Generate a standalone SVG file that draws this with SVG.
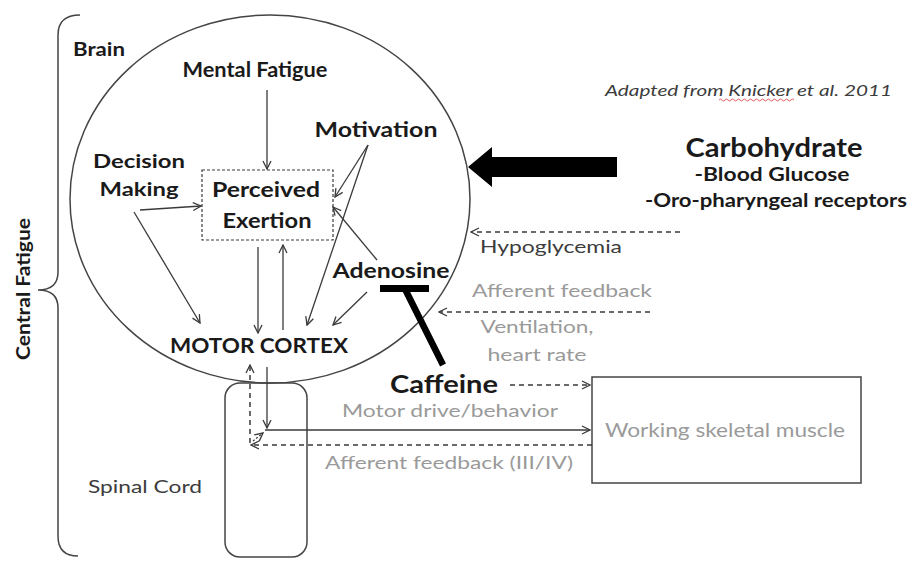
<svg xmlns="http://www.w3.org/2000/svg" width="911" height="562" viewBox="0 0 911 562">
<defs>
<style>
.t{font-family:Lato,"Open Sans","Liberation Sans",sans-serif;fill:#1a1a1a}
.b{font-weight:bold}
.g{fill:#9a9a9a}
.dg{fill:#3c3c3c}
.ln{stroke:#3a3a3a;stroke-width:1.3;fill:none}
.ds{stroke:#3a3a3a;stroke-width:1.5;fill:none;stroke-dasharray:5 4}
.sh{stroke:#444;stroke-width:1.5;fill:none}
</style>
<marker id="a" viewBox="0 0 10 10" refX="9" refY="5" markerWidth="10" markerHeight="10" markerUnits="userSpaceOnUse" orient="auto">
<path d="M1,1 L9,5 L1,9" fill="none" stroke="#3a3a3a" stroke-width="1.3"/>
</marker>
</defs>
<rect width="911" height="562" fill="#fff"/>

<g id="central-fatigue">
<path class="sh" d="M80 15 Q58 15 58 35 L58 272 Q58 290 38 290 Q58 290 58 308 L58 536 Q58 556 78 556"/>
<text class="t b" transform="translate(30 289) rotate(-90)" text-anchor="middle" font-size="18" textLength="142" lengthAdjust="spacingAndGlyphs">Central Fatigue</text>
</g>

<g id="brain">
<ellipse class="sh" cx="270" cy="199" rx="200" ry="184" stroke-width="1.3"/>
<text class="t b" x="73" y="56" font-size="18" textLength="52" lengthAdjust="spacingAndGlyphs">Brain</text>
</g>

<g id="mental-fatigue"><text class="t b" x="255" y="77" text-anchor="middle" font-size="20" textLength="145" lengthAdjust="spacingAndGlyphs">Mental Fatigue</text></g>
<g id="motivation"><text class="t b" x="376" y="137" text-anchor="middle" font-size="20" textLength="123" lengthAdjust="spacingAndGlyphs">Motivation</text></g>
<g id="decision-making">
<text class="t b" x="139" y="168" text-anchor="middle" font-size="19" textLength="92" lengthAdjust="spacingAndGlyphs">Decision</text>
<text class="t b" x="139" y="196" text-anchor="middle" font-size="19" textLength="79" lengthAdjust="spacingAndGlyphs">Making</text>
</g>
<g id="perceived-exertion">
<rect x="202" y="170" width="131" height="70" fill="none" stroke="#3a3a3a" stroke-width="1.2" stroke-dasharray="3 2"/>
<text class="t b" x="266" y="197" text-anchor="middle" font-size="20" textLength="108" lengthAdjust="spacingAndGlyphs">Perceived</text>
<text class="t b" x="267" y="228" text-anchor="middle" font-size="20" textLength="89" lengthAdjust="spacingAndGlyphs">Exertion</text>
</g>
<g id="adenosine"><text class="t b" x="391" y="278" text-anchor="middle" font-size="20" textLength="117" lengthAdjust="spacingAndGlyphs">Adenosine</text></g>
<g id="motor-cortex"><text class="t b" x="259" y="353" text-anchor="middle" font-size="20" textLength="178" lengthAdjust="spacingAndGlyphs">MOTOR CORTEX</text></g>

<g id="citation">
<text class="t dg" x="605" y="96" font-size="16" font-style="italic" textLength="287" lengthAdjust="spacingAndGlyphs">Adapted from Knicker et al. 2011</text>
<path d="M719 100 q1.5 -2 3 0 t3 0 t3 0 t3 0 t3 0 t3 0 t3 0 t3 0 t3 0 t3 0 t3 0 t3 0 t3 0 t3 0 t3 0 t3 0 t3 0 t3 0 t3 0 t3 0 t3 0 t3 0 t3 0 t3 0 t3 0" fill="none" stroke="#d33" stroke-width="0.8"/>
</g>

<g id="carbohydrate">
<text class="t b" x="774" y="157" text-anchor="middle" font-size="26" textLength="177" lengthAdjust="spacingAndGlyphs">Carbohydrate</text>
<text class="t b" x="772" y="181" text-anchor="middle" font-size="18" textLength="155" lengthAdjust="spacingAndGlyphs">-Blood Glucose</text>
<text class="t b" x="776" y="207" text-anchor="middle" font-size="19" textLength="262" lengthAdjust="spacingAndGlyphs">-Oro-pharyngeal receptors</text>
</g>

<g id="caffeine"><text class="t b" x="444" y="393" text-anchor="middle" font-size="25" textLength="108" lengthAdjust="spacingAndGlyphs">Caffeine</text></g>

<g id="spinal-cord">
<rect x="225" y="383" width="82" height="174" rx="15" class="sh"/>
<text class="t dg" x="145" y="493" text-anchor="middle" font-size="18" textLength="114" lengthAdjust="spacingAndGlyphs">Spinal Cord</text>
</g>

<g id="working-skeletal-muscle">
<rect x="592" y="377" width="269" height="106" class="sh"/>
<text class="t g" x="725" y="437" text-anchor="middle" font-size="19" textLength="240" lengthAdjust="spacingAndGlyphs">Working skeletal muscle</text>
</g>

<g id="labels">
<text class="t dg" x="551" y="253" text-anchor="middle" font-size="18" textLength="142" lengthAdjust="spacingAndGlyphs">Hypoglycemia</text>
<text class="t g" x="562" y="297" text-anchor="middle" font-size="18" textLength="180" lengthAdjust="spacingAndGlyphs">Afferent feedback</text>
<text class="t g" x="537" y="333" text-anchor="middle" font-size="18" textLength="113" lengthAdjust="spacingAndGlyphs">Ventilation,</text>
<text class="t g" x="537" y="361" text-anchor="middle" font-size="18" textLength="99" lengthAdjust="spacingAndGlyphs">heart rate</text>
<text class="t g" x="450" y="417" text-anchor="middle" font-size="18" textLength="216" lengthAdjust="spacingAndGlyphs">Motor drive/behavior</text>
<text class="t g" x="449" y="469" text-anchor="middle" font-size="18" textLength="248" lengthAdjust="spacingAndGlyphs">Afferent feedback (III/IV)</text>
</g>

<g id="connectors">
<line class="ln" x1="267" y1="90" x2="267" y2="169" marker-end="url(#a)"/>
<line class="ln" x1="140" y1="210" x2="201" y2="206" marker-end="url(#a)"/>
<line class="ln" x1="134" y1="212" x2="200" y2="323" marker-end="url(#a)"/>
<line class="ln" x1="258" y1="247" x2="258" y2="333" marker-end="url(#a)"/>
<line class="ln" x1="283" y1="330" x2="283" y2="245" marker-end="url(#a)"/>
<line class="ln" x1="368" y1="145" x2="335" y2="197" marker-end="url(#a)"/>
<line class="ln" x1="368" y1="145" x2="307" y2="325" marker-end="url(#a)"/>
<line class="ln" x1="377" y1="260" x2="333" y2="207" marker-end="url(#a)"/>
<line class="ln" x1="367" y1="292" x2="333" y2="325" marker-end="url(#a)"/>
<polygon points="617,157 492,157 492,147 468,167 492,187 492,177 617,177" fill="#000"/>
<line class="ds" x1="680" y1="232" x2="471" y2="232" marker-end="url(#a)"/>
<line class="ds" x1="650" y1="312" x2="439" y2="312" marker-end="url(#a)"/>
<line x1="380" y1="288.5" x2="429" y2="288.5" stroke="#000" stroke-width="7"/>
<line x1="405" y1="289" x2="443" y2="365" stroke="#000" stroke-width="6.5"/>
<line class="ds" x1="510" y1="385" x2="590" y2="385" marker-end="url(#a)"/>
<line class="ln" x1="267" y1="367" x2="267" y2="428" marker-end="url(#a)"/>
<line class="ln" x1="265" y1="430" x2="590" y2="430" marker-end="url(#a)"/>
<line class="ds" x1="592" y1="445" x2="251" y2="445" marker-end="url(#a)"/>
<line class="ds" x1="250" y1="443" x2="250" y2="365" marker-end="url(#a)"/>
<line class="ln" x1="253" y1="441" x2="263" y2="433" stroke-dasharray="2 2" marker-end="url(#a)"/>
</g>
</svg>
